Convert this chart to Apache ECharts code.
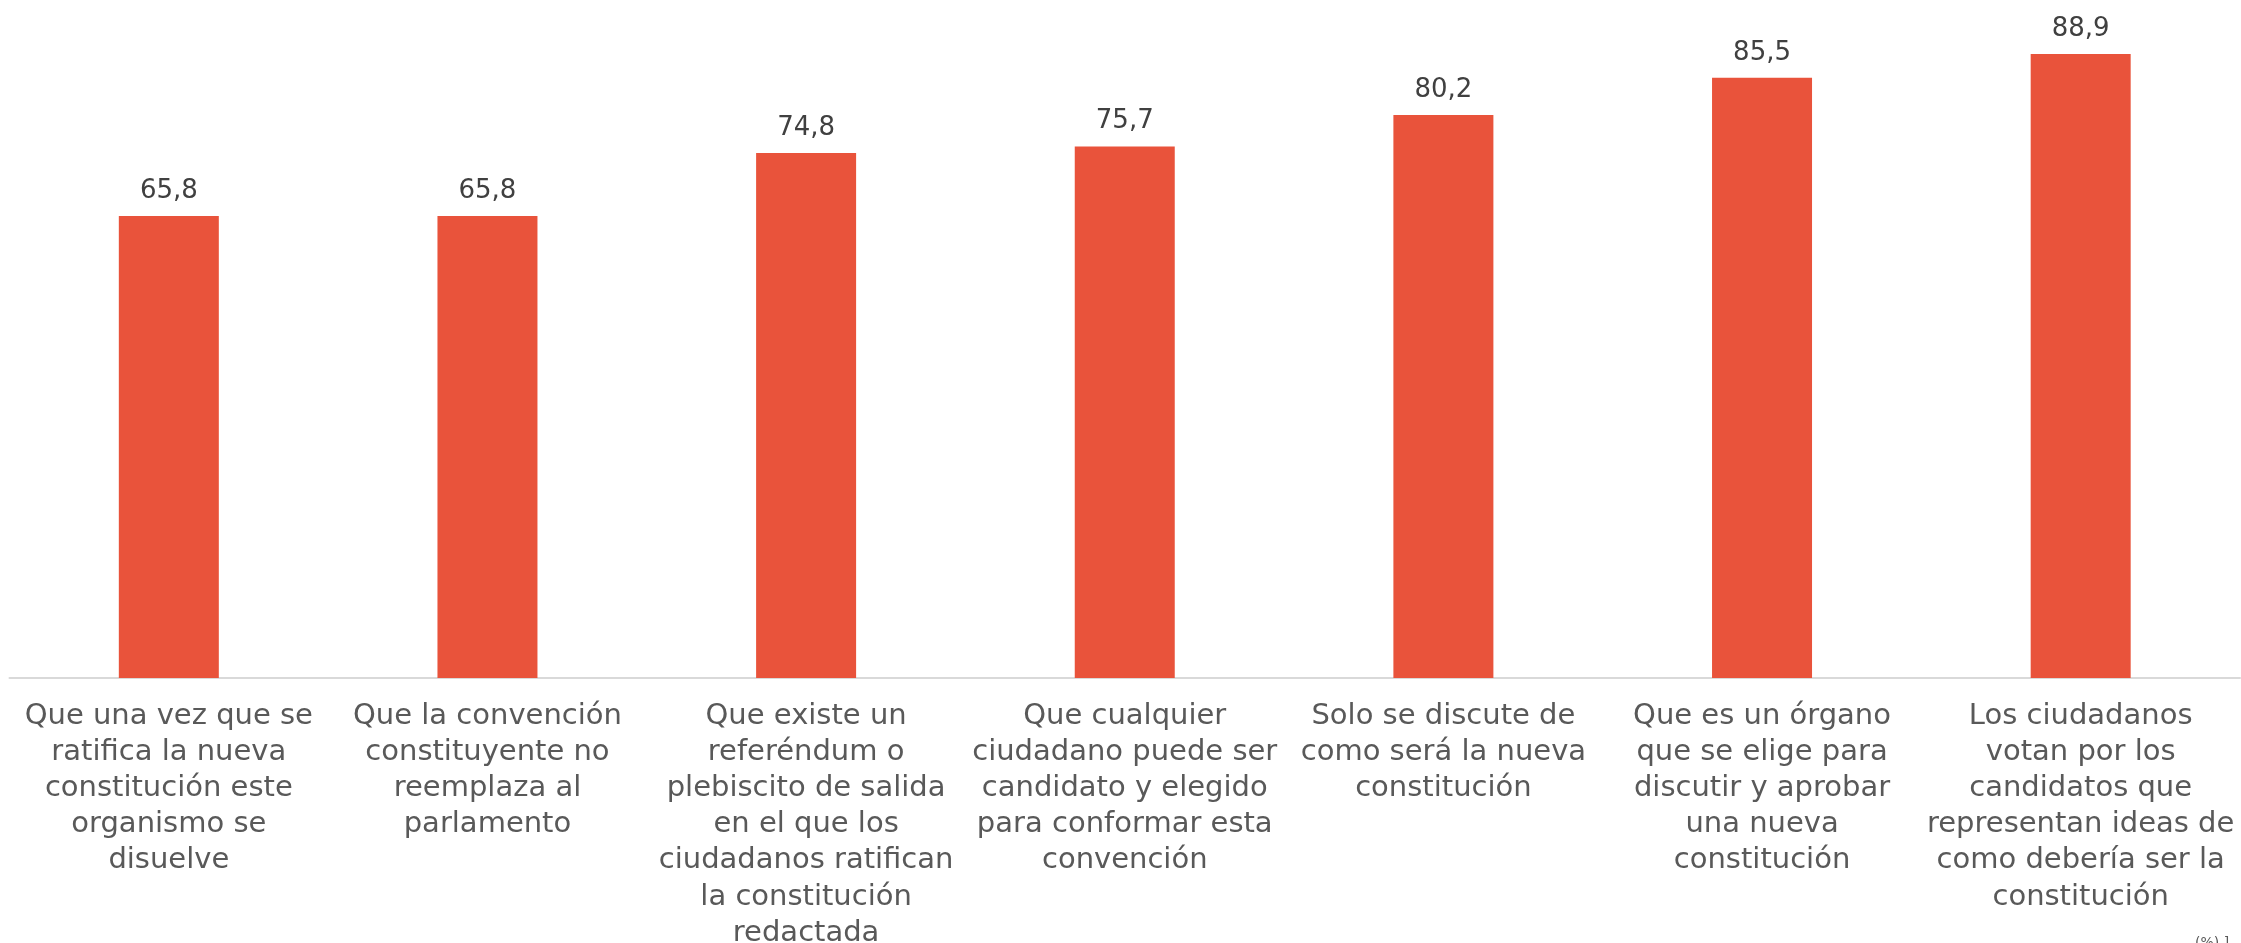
<!DOCTYPE html>
<html>
<head>
<meta charset="utf-8">
<script src="https://cdn.jsdelivr.net/npm/echarts@6/dist/echarts.min.js"></script>
<style>
html,body{margin:0;padding:0;background:#fff;overflow:hidden;}
#chart{width:2241px;height:943px;}
</style>
</head>
<body>
<div id="chart"></div>
<script>
const categories = [
  "Que una vez que se\nratifica la nueva\nconstitución este\norganismo se\ndisuelve",
  "Que la convención\nconstituyente no\nreemplaza al\nparlamento",
  "Que existe un\nreferéndum o\nplebiscito de salida\nen el que los\nciudadanos ratifican\nla constitución\nredactada",
  "Que cualquier\nciudadano puede ser\ncandidato y elegido\npara conformar esta\nconvención",
  "Solo se discute de\ncomo será la nueva\nconstitución",
  "Que es un órgano\nque se elige para\ndiscutir y aprobar\nuna nueva\nconstitución",
  "Los ciudadanos\nvotan por los\ncandidatos que\nrepresentan ideas de\ncomo debería ser la\nconstitución"
];
const values = [65.8, 65.8, 74.8, 75.7, 80.2, 85.5, 88.9];

const chart = echarts.init(document.getElementById('chart'), null, {renderer: 'canvas'});
chart.setOption({
  animation: false,
  backgroundColor: '#ffffff',
  grid: {left: 9.5, right: 1, top: 0, bottom: 265, containLabel: false, outerBoundsMode: 'none'},
  xAxis: {
    type: 'category',
    data: categories,
    axisLine: {show: true, lineStyle: {color: '#d9d9d9', width: 2}},
    axisTick: {show: false},
    axisLabel: {
      interval: 0,
      margin: 20,
      color: '#595959',
      fontFamily: 'DejaVu Sans',
      fontSize: 29,
      lineHeight: 36.2,
      align: 'center',
      hideOverlap: false
    }
  },
  yAxis: {
    type: 'value',
    min: 0,
    max: 96.58,
    show: false,
    splitLine: {show: false}
  },
  series: [{
    type: 'bar',
    data: values,
    barWidth: 100,
    itemStyle: {color: '#E9533B'},
    label: {
      show: true,
      position: 'top',
      distance: 12,
      color: '#404040',
      fontFamily: 'DejaVu Sans',
      fontSize: 26,
      formatter: p => p.value.toFixed(1).replace('.', ',')
    }
  }],
  graphic: [{
    type: 'text',
    left: 2195,
    top: 936,
    style: {text: '(%) ]', fontSize: 14, fill: '#595959', fontFamily: 'DejaVu Sans'}
  }]
});
</script>
</body>
</html>
